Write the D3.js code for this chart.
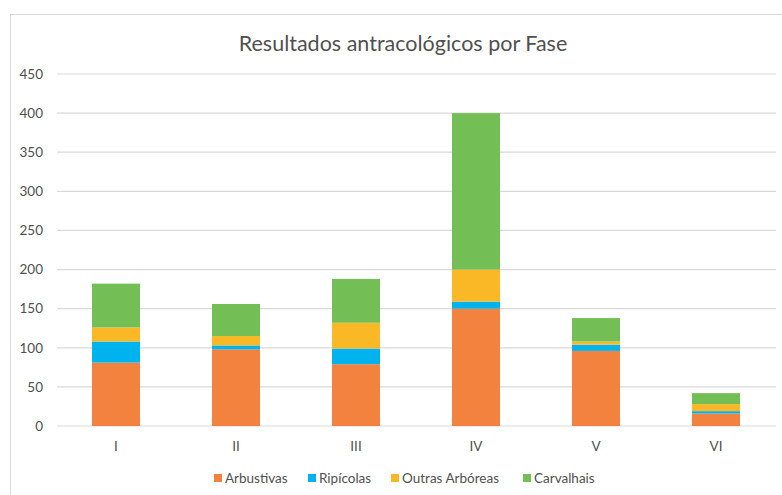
<!DOCTYPE html>
<html>
<head>
<meta charset="utf-8">
<script src="https://cdn.jsdelivr.net/npm/d3@7"></script>
<style>
  body { margin: 0; background: #fff; }
  text { font-family: Lato, "Noto Sans", sans-serif; fill: #505050; }
</style>
</head>
<body>
<div id="chart"></div>
<script>
// data
var fases = ["I", "II", "III", "IV", "V", "VI"];
var seriesNames = ["Arbustivas", "Ripícolas", "Outras Arbóreas", "Carvalhais"];
var arbustivas = [81, 98, 79, 150, 96, 16];
var ripicolas = [27, 5, 20, 9, 8, 3];
var outrasArboreas = [18, 12, 33, 41, 4, 9];
var carvalhais = [56, 41, 56, 200, 30, 14];
var yTicks = [0, 50, 100, 150, 200, 250, 300, 350, 400, 450];
var colors = ["#F3823F", "#00B2EE", "#FBB826", "#73BF56"];

var width = 782, height = 495;

var svg = d3.select("#chart")
  .append("svg")
    .attr("width", width)
    .attr("height", height);

// chart frame
svg.append("rect")
  .attr("x", 10.5).attr("y", 14.5)
  .attr("width", width).attr("height", height)
  .attr("fill", "none")
  .attr("stroke", "#d9d9d9");

var x = d3.scaleBand()
  .domain(fases)
  .range([56, 776])
  .paddingInner(0.6)
  .paddingOuter(0.3);

var y = d3.scaleLinear()
  .domain([0, 450])
  .range([426, 74]);

// gridlines
svg.append("g")
  .selectAll("line")
  .data(yTicks)
  .enter()
  .append("line")
    .attr("x1", 57).attr("x2", 776)
    .attr("y1", function(d) { return y(d); })
    .attr("y2", function(d) { return y(d); })
    .attr("stroke", "#d9d9d9")
    .attr("stroke-width", 1.2);

// y tick labels
svg.append("g")
  .selectAll("text")
  .data(yTicks)
  .enter()
  .append("text")
    .attr("x", 43)
    .attr("y", function(d) { return y(d); })
    .attr("dy", "0.35em")
    .attr("text-anchor", "end")
    .style("font-size", "13.5px")
    .text(function(d) { return d; });

// stacked bars
var rows = fases.map(function(f, i) {
  return {
    fase: f,
    "Arbustivas": arbustivas[i],
    "Ripícolas": ripicolas[i],
    "Outras Arbóreas": outrasArboreas[i],
    "Carvalhais": carvalhais[i]
  };
});

var stacked = d3.stack().keys(seriesNames)(rows);

svg.append("g")
  .selectAll("g")
  .data(stacked)
  .enter()
  .append("g")
    .attr("fill", function(d, i) { return colors[i]; })
  .selectAll("rect")
  .data(function(d) { return d; })
  .enter()
  .append("rect")
    .attr("x", function(d) { return x(d.data.fase); })
    .attr("width", x.bandwidth())
    .attr("y", function(d) { return y(d[1]); })
    .attr("height", function(d) { return y(d[0]) - y(d[1]); });

// x labels
svg.append("g")
  .selectAll("text")
  .data(fases)
  .enter()
  .append("text")
    .attr("x", function(d) { return x(d) + x.bandwidth() / 2; })
    .attr("y", 446)
    .attr("dy", "0.35em")
    .attr("text-anchor", "middle")
    .style("font-size", "13.5px")
    .text(function(d) { return d; });

// title
svg.append("text")
  .attr("x", 403)
  .attr("y", 43)
  .attr("dy", "0.35em")
  .attr("text-anchor", "middle")
  .style("font-size", "21.5px")
  .text("Resultados antracológicos por Fase");

// legend
var legendX = [214, 308, 391, 523];
var legend = svg.append("g")
  .selectAll("g")
  .data(seriesNames)
  .enter()
  .append("g")
    .attr("transform", function(d, i) { return "translate(" + legendX[i] + ",478)"; });

legend.append("rect")
  .attr("x", 0).attr("y", -4)
  .attr("width", 8).attr("height", 8)
  .attr("fill", function(d, i) { return colors[i]; });

legend.append("text")
  .attr("x", 11)
  .attr("y", 0)
  .attr("dy", "0.35em")
  .style("font-size", "13.5px")
  .text(function(d) { return d; });
</script>
</body>
</html>
